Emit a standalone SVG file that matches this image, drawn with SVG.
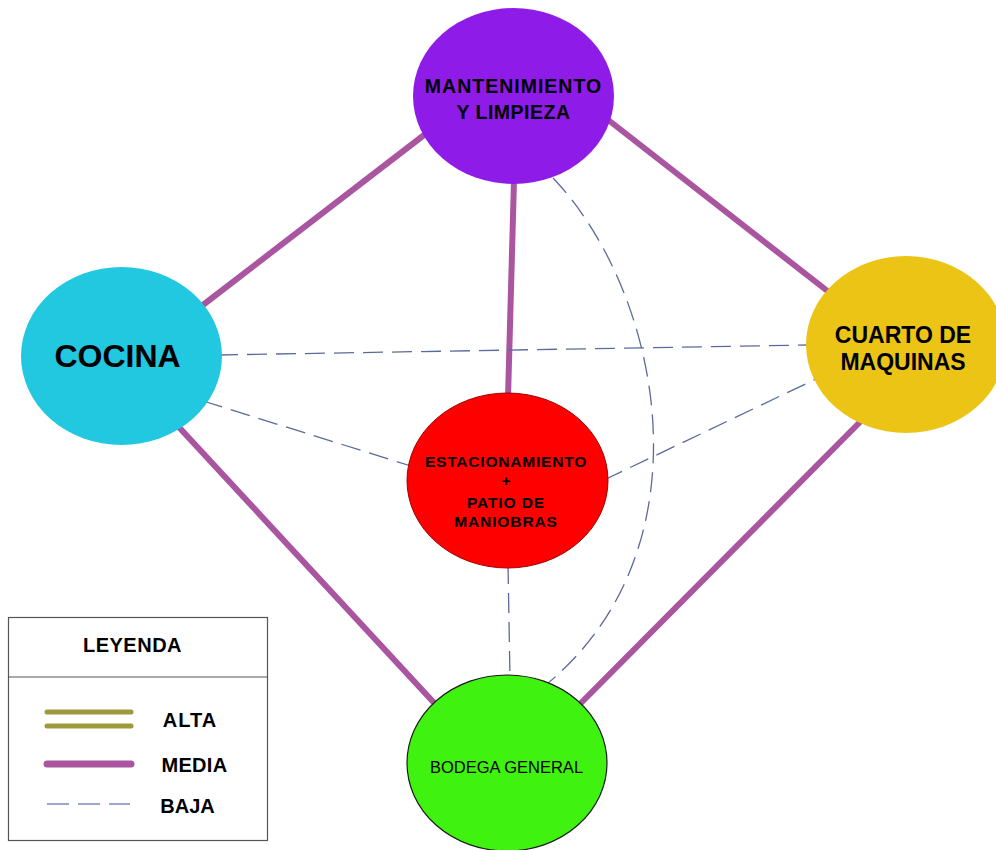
<svg xmlns="http://www.w3.org/2000/svg" width="996" height="850" viewBox="0 0 996 850">
<style>
.media{stroke:#A9559F;stroke-width:6;fill:none}
.baja{stroke:#5A6A9A;stroke-width:1.3;stroke-dasharray:20 9;fill:none}
.alta{stroke:#9C9A3C;stroke-width:5;stroke-linecap:round;fill:none}
.b{font-family:"Liberation Sans",Arial,sans-serif;font-weight:bold;fill:#000;text-anchor:middle}
.r{font-family:"Liberation Sans",Arial,sans-serif;fill:#000;text-anchor:middle}
</style>
<rect width="996" height="850" fill="#fff"/>
<g id="connectors">
<line class="media" x1="428" y1="132" x2="199" y2="308"/>
<line class="media" x1="607" y1="119" x2="830" y2="293"/>
<line class="media" x1="514" y1="180" x2="508" y2="398"/>
<line class="media" x1="176" y1="424" x2="437" y2="706"/>
<line class="media" x1="864" y1="418" x2="579" y2="705"/>
<line class="baja" x1="218" y1="355" x2="810" y2="345"/>
<line class="baja" x1="203" y1="401" x2="411" y2="466"/>
<line class="baja" x1="604" y1="480" x2="818" y2="378"/>
<line class="baja" x1="508" y1="564" x2="510" y2="679"/>
<path class="baja" d="M553,178 C660,290 714,545 547,684"/>
</g>
<g id="mantenimiento">
<ellipse cx="513.5" cy="96" rx="100.5" ry="88" fill="#8F1BE8"/>
<text class="b" x="513.5" y="93" font-size="19.5" letter-spacing="1">MANTENIMIENTO</text>
<text class="b" x="513.5" y="119" font-size="19.5" letter-spacing="0.5">Y LIMPIEZA</text>
</g>
<g id="cocina">
<ellipse cx="121.5" cy="356" rx="100.5" ry="89" fill="#22C7E0"/>
<text class="b" x="117.5" y="367" font-size="32">COCINA</text>
</g>
<g id="cuarto">
<ellipse cx="906" cy="344.5" rx="100" ry="88.5" fill="#EBC416"/>
<text class="b" x="903" y="343" font-size="23">CUARTO DE</text>
<text class="b" x="903" y="370" font-size="23">MAQUINAS</text>
</g>
<g id="estacionamiento">
<ellipse cx="507.5" cy="480.5" rx="100.5" ry="87.5" fill="#FF0000" stroke="#A00000" stroke-width="1"/>
<text class="b" x="506" y="467" font-size="15.5" letter-spacing="0.8">ESTACIONAMIENTO</text>
<text class="b" x="506" y="486" font-size="15.5">+</text>
<text class="b" x="506" y="508" font-size="15.5" letter-spacing="0.9">PATIO DE</text>
<text class="b" x="506" y="527" font-size="15.5" letter-spacing="0.9">MANIOBRAS</text>
</g>
<g id="bodega">
<ellipse cx="507" cy="763" rx="100" ry="88" fill="#40F210" stroke="#1a1a1a" stroke-width="1.2"/>
<text class="r" x="506.5" y="773" font-size="16.5">BODEGA GENERAL</text>
</g>
<g id="leyenda">
<rect x="8.5" y="617.5" width="259" height="223" fill="#fff" stroke="#555" stroke-width="1.2"/>
<line x1="8.5" y1="677" x2="267.5" y2="677" stroke="#555" stroke-width="1.2"/>
<text class="b" x="132.5" y="652" font-size="20" letter-spacing="0.5">LEYENDA</text>
<line class="alta" x1="47" y1="712" x2="131" y2="712"/>
<line class="alta" x1="47" y1="726" x2="131" y2="726"/>
<line x1="47" y1="764" x2="131" y2="764" stroke="#A9559F" stroke-width="7" stroke-linecap="round"/>
<line x1="47" y1="804" x2="130" y2="804" stroke="#7C8BC0" stroke-width="1.3" stroke-dasharray="22 9"/>
<text class="b" x="190" y="727" font-size="20" letter-spacing="1">ALTA</text>
<text class="b" x="194.5" y="772" font-size="20" letter-spacing="0.3">MEDIA</text>
<text class="b" x="187.5" y="813" font-size="20">BAJA</text>
</g>
</svg>
